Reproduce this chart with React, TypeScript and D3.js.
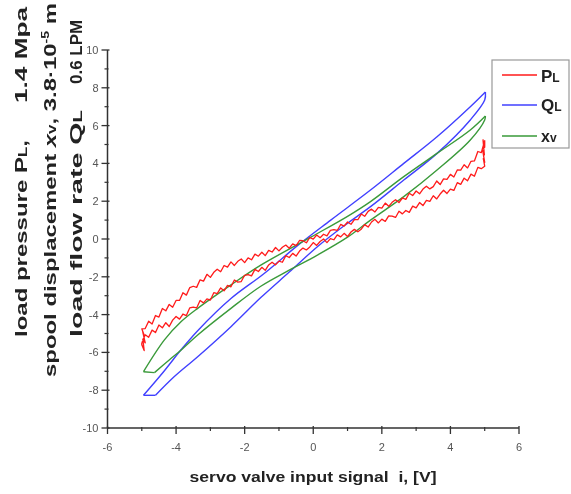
import React from "react";
import * as d3 from "d3";

// ---- data ----
const X_TICKS = [-6, -4, -2, 0, 2, 4, 6];
const X_MINOR = [-5, -3, -1, 1, 3, 5];
const Y_TICKS = [-10, -8, -6, -4, -2, 0, 2, 4, 6, 8, 10];
const Y_MINOR = [-9, -7, -5, -3, -1, 1, 3, 5, 7, 9];

// Q_L loop (blue): rising branch and falling branch, both listed by increasing i
const QL_RISE: [number, number][] = [
  [-4.95, -8.27], [-4.6, -8.27], [-4.05, -7.28], [-3.37, -6.23], [-2.4, -4.64],
  [-1.53, -3.1], [-0.7, -1.75], [0.12, -0.41], [0.9, 0.7], [1.67, 1.71],
  [2.64, 3.12], [3.61, 4.53], [4.58, 6.3], [5.0, 7.35], [5.02, 7.78],
];
const QL_FALL: [number, number][] = [
  [-4.95, -8.27], [-4.34, -6.97], [-3.85, -5.85], [-3.37, -4.85], [-2.4, -3.15],
  [-1.45, -1.85], [-0.46, -0.35], [0.51, 1.0], [1.67, 2.59], [2.64, 4.0],
  [3.61, 5.41], [4.58, 7.0], [5.02, 7.78],
];

// x_v loop (green)
const XV_RISE: [number, number][] = [
  [-4.95, -7.02], [-4.63, -7.07], [-4.2, -6.4], [-3.85, -5.87], [-3.37, -5.08],
  [-2.4, -3.67], [-1.53, -2.5], [-0.7, -1.65], [0.12, -0.85], [1.0, 0.1],
  [1.67, 1.0], [2.64, 2.24], [3.61, 3.65], [4.58, 5.24], [5.0, 6.3], [5.02, 6.51],
];
const XV_FALL: [number, number][] = [
  [-4.95, -7.02], [-4.34, -5.34], [-3.85, -4.37], [-3.37, -3.67], [-2.4, -2.43],
  [-1.53, -1.38], [-0.07, 0.1], [1.0, 1.2], [1.67, 1.98], [2.64, 3.3],
  [3.61, 4.53], [4.58, 5.77], [5.02, 6.51],
];

// P_L loop (red, noisy): sampled every 0.1 V of input signal
const PL_GRID = d3.range(0, 101).map((k) => -5 + k / 10);
const PL_RISE_Y = [
  -5.5, -5.07, -5.2, -4.82, -4.95, -4.55, -4.7, -4.43, -4.63, -4.29,
  -4.1, -4.24, -3.97, -4.05, -3.64, -3.6, -3.65, -3.25, -3.38, -3.17,
  -3.23, -2.84, -2.89, -2.59, -2.74, -2.45, -2.53, -2.17, -2.28, -2.25,
  -1.92, -1.88, -1.95, -1.61, -1.72, -1.5, -1.66, -1.37, -1.23, -1.37,
  -1.17, -1.23, -0.88, -0.98, -0.76, -0.9, -0.64, -0.48, -0.58, -0.42,
  -0.19, -0.34, -0.13, 0.0, -0.19, 0.02, -0.04, 0.22, 0.11, 0.3,
  0.13, 0.37, 0.51, 0.38, 0.52, 0.76, 0.63, 0.9, 1.04, 0.85,
  1.05, 0.93, 1.22, 1.21, 1.14, 1.47, 1.33, 1.51, 1.41, 1.74,
  1.65, 1.93, 1.77, 2.04, 1.99, 2.29, 2.12, 2.38, 2.58, 2.41,
  2.64, 2.57, 2.98, 2.89, 3.22, 3.08, 3.43, 3.32, 3.79, 3.72,
  3.85,
];
// falling branch listed from i = 5.0 down to i = -5.0
const PL_FALL_Y = [
  5.2, 4.57, 4.63, 4.13, 4.11, 3.76, 3.93, 3.64, 3.65, 3.28,
  3.42, 3.15, 3.18, 2.88, 3.07, 2.77, 2.65, 2.79, 2.64, 2.39,
  2.54, 2.3, 2.42, 2.1, 2.17, 1.93, 2.08, 1.94, 1.73, 1.9,
  1.63, 1.67, 1.43, 1.58, 1.46, 1.2, 1.32, 1.02, 1.03, 0.78,
  0.9, 0.68, 0.77, 0.45, 0.5, 0.46, 0.17, 0.25, 0.07, 0.21,
  -0.01, 0.08, -0.2, -0.09, -0.08, -0.35, -0.26, -0.49, -0.32, -0.44,
  -0.63, -0.45, -0.69, -0.6, -0.88, -0.7, -0.91, -0.8, -1.1, -1.0,
  -1.25, -1.06, -1.18, -1.4, -1.21, -1.49, -1.4, -1.73, -1.6, -1.76,
  -2.03, -1.87, -2.23, -2.16, -2.56, -2.5, -2.57, -2.97, -2.84, -3.25,
  -3.25, -3.61, -3.46, -3.8, -3.68, -4.13, -4.05, -4.5, -4.35, -4.74,
  -4.75,
];
const PL_RIGHT_END: [number, number][] = [
  [4.96, 4.25], [5.0, 4.05], [4.94, 4.7], [4.99, 4.45], [4.95, 5.25], [5.0, 4.85],
];
const PL_LEFT_END: [number, number][] = [
  [-4.92, -5.15], [-4.98, -4.85], [-4.9, -5.5], [-4.97, -5.3], [-4.93, -5.9], [-5.0, -5.6],
];

const COLORS = { PL: "#ff1a1a", QL: "#4040ff", XV: "#3a9a3a" };
const FONT = "'Liberation Sans', Arial, sans-serif";

export default function App() {
  const W = 571;
  const H = 494;
  const x = d3.scaleLinear().domain([-6, 6]).range([107.5, 519]);
  const y = d3.scaleLinear().domain([-10, 10]).range([428, 50]);

  const curve = d3
    .line<[number, number]>()
    .x((d) => x(d[0]))
    .y((d) => y(d[1]))
    .curve(d3.curveCatmullRom.alpha(0.5));
  const straight = d3
    .line<[number, number]>()
    .x((d) => x(d[0]))
    .y((d) => y(d[1]));

  // a loop: flat foot (straight) + rising branch + falling branch
  const loopPaths = (rise: [number, number][], fall: [number, number][]) => [
    straight([rise[0], rise[1]]) || "",
    curve(rise.slice(1)) || "",
    curve(fall) || "",
  ];

  const plRise: [number, number][] = PL_GRID.map((g, k) => [g, PL_RISE_Y[k]]);
  const plFall: [number, number][] = PL_GRID.slice()
    .reverse()
    .map((g, k) => [g, PL_FALL_Y[k]]);
  const plPath =
    straight([...plRise, ...PL_RIGHT_END, ...plFall, ...PL_LEFT_END, plRise[0]]) || "";

  const x0 = x(-6);
  const yb = y(-10);

  return (
    <svg
      width={W}
      height={H}
      viewBox={`0 0 ${W} ${H}`}
      style={{ position: "absolute", left: 0, top: 0, background: "#fff" }}
      fontFamily={FONT}
    >
      <defs>
        <filter id="soft" x="-5%" y="-5%" width="110%" height="110%">
          <feGaussianBlur stdDeviation="0.45" />
        </filter>
      </defs>
      <rect width={W} height={H} fill="#fff" />
      <g filter="url(#soft)">
        {/* data */}
        {loopPaths(QL_RISE, QL_FALL).map((d, k) => (
          <path key={"q" + k} d={d} fill="none" stroke={COLORS.QL} strokeWidth={1.4} />
        ))}
        {loopPaths(XV_RISE, XV_FALL).map((d, k) => (
          <path key={"x" + k} d={d} fill="none" stroke={COLORS.XV} strokeWidth={1.4} />
        ))}
        <path d={plPath} fill="none" stroke={COLORS.PL} strokeWidth={1.3} strokeLinejoin="round" />

        {/* axes */}
        <line x1={x0} x2={x0} y1={y(10)} y2={yb} stroke="#333" strokeWidth={1.5} />
        <line x1={x0} x2={x(6)} y1={yb} y2={yb} stroke="#333" strokeWidth={1.5} />
        {Y_TICKS.map((t) => (
          <g key={"yt" + t}>
            <line x1={x0 - 6} x2={x0 + 2} y1={y(t)} y2={y(t)} stroke="#333" strokeWidth={1.3} />
            <text x={x0 - 9} y={y(t) + 4} fontSize={11} textAnchor="end" fill="#555">
              {t}
            </text>
          </g>
        ))}
        {Y_MINOR.map((t) => (
          <line key={"ym" + t} x1={x0 - 3} x2={x0 + 1} y1={y(t)} y2={y(t)} stroke="#333" strokeWidth={1.2} />
        ))}
        {X_TICKS.map((t) => (
          <g key={"xt" + t}>
            <line x1={x(t)} x2={x(t)} y1={yb - 2} y2={yb + 6} stroke="#333" strokeWidth={1.3} />
            <text x={x(t)} y={yb + 23} fontSize={11} textAnchor="middle" fill="#555">
              {t}
            </text>
          </g>
        ))}
        {X_MINOR.map((t) => (
          <line key={"xm" + t} x1={x(t)} x2={x(t)} y1={yb - 1} y2={yb + 3} stroke="#333" strokeWidth={1.2} />
        ))}

        {/* x title */}
        <text x={313} y={482} fontSize={15} fontWeight="bold" textAnchor="middle" fill="#222"
          textLength={247} lengthAdjust="spacingAndGlyphs">
          {"servo valve input signal\u00A0 i, [V]"}
        </text>

        {/* y titles */}
        <g fontWeight="bold" fill="#222" fontSize={17}>
          <text transform="translate(27,337) rotate(-90)" textLength={197} lengthAdjust="spacingAndGlyphs">
            load pressure P<tspan fontSize={12}>L</tspan>,
          </text>
          <text transform="translate(27,103) rotate(-90)" textLength={96} lengthAdjust="spacingAndGlyphs">
            1.4 Mpa
          </text>
          <text transform="translate(56,377) rotate(-90)" textLength={374} lengthAdjust="spacingAndGlyphs">
            spool displacement <tspan fontStyle="italic">x</tspan>
            <tspan fontSize={12}>v</tspan>, 3.8·10
            <tspan fontSize={10} dy={-7}>-5</tspan>
            <tspan dy={7}> m</tspan>
          </text>
          <text transform="translate(82,337) rotate(-90)" textLength={227} lengthAdjust="spacingAndGlyphs">
            load flow rate Q<tspan fontSize={12}>L</tspan>
          </text>
          <text transform="translate(82,84) rotate(-90)">
            0.6 LPM
          </text>
        </g>

        {/* legend */}
        <rect x={492} y={60} width={77} height={88} fill="#fff" stroke="#999" strokeWidth={1.2} />
        <line x1={502} x2={537} y1={75} y2={75} stroke={COLORS.PL} strokeWidth={1.4} />
        <line x1={502} x2={537} y1={105} y2={105} stroke={COLORS.QL} strokeWidth={1.4} />
        <line x1={502} x2={537} y1={136} y2={136} stroke={COLORS.XV} strokeWidth={1.4} />
        <g fontWeight="bold" fill="#222">
          <text x={541} y={82} fontSize={17}>
            P<tspan fontSize={12}>L</tspan>
          </text>
          <text x={541} y={111} fontSize={17}>
            Q<tspan fontSize={12}>L</tspan>
          </text>
          <text x={541} y={142} fontSize={16}>
            x<tspan fontSize={12}>v</tspan>
          </text>
        </g>
      </g>
    </svg>
  );
}
